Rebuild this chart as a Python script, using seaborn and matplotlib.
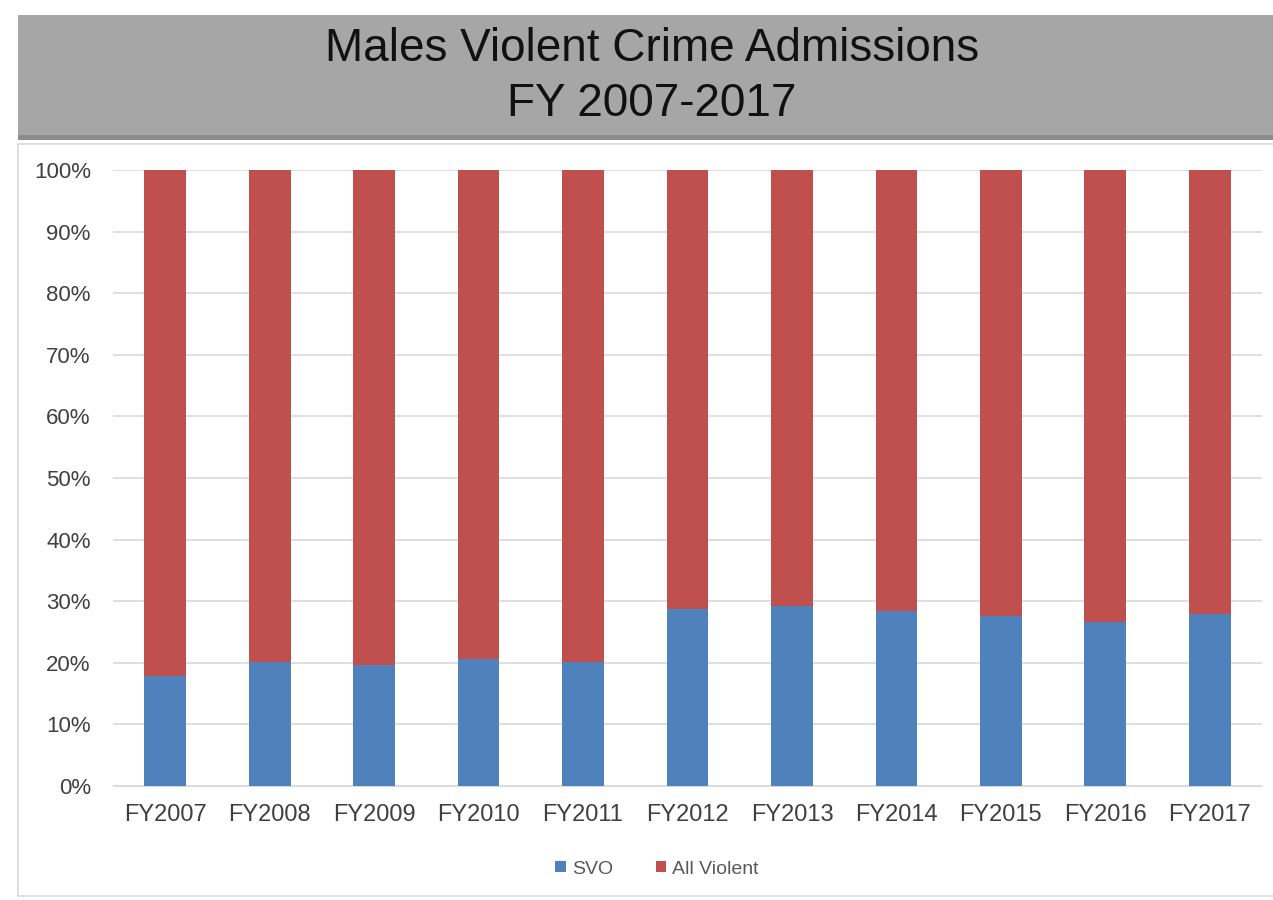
import matplotlib
matplotlib.use("Agg")
import matplotlib.pyplot as plt
import seaborn as sns
import pandas as pd
from matplotlib.patches import Rectangle
from matplotlib.ticker import FuncFormatter

years = ['FY2007', 'FY2008', 'FY2009', 'FY2010', 'FY2011', 'FY2012',
         'FY2013', 'FY2014', 'FY2015', 'FY2016', 'FY2017']
svo = [17.9, 20.1, 19.6, 20.6, 20.1, 28.8, 29.3, 28.4, 27.6, 26.7, 28.0]
all_violent = [82.1, 79.9, 80.4, 79.4, 79.9, 71.2, 70.7, 71.6, 72.4, 73.3, 72.0]

df = pd.DataFrame({'year': years, 'svo': svo, 'all_violent': all_violent})
df['total'] = df['svo'] + df['all_violent']

blue = '#4f81bd'
red = '#c0504d'
grey_txt = '#404040'

sns.set_style('white')
plt.rcParams['font.family'] = ['Liberation Sans', 'DejaVu Sans']

fig = plt.figure(figsize=(12.73, 9), dpi=100)

# title banner
fig.patches.append(Rectangle((18 / 1273, 1 - 140 / 900), 1, 6 / 900, transform=fig.transFigure,
                             facecolor='#8c8c8c', edgecolor='none', zorder=-3))
fig.patches.append(Rectangle((18 / 1273, 1 - 135 / 900), 1, 120 / 900, transform=fig.transFigure,
                             facecolor='#a6a6a6', edgecolor='none', zorder=-2))
fig.text(652 / 1273, 1 - 61 / 900, 'Males Violent Crime Admissions', ha='center', va='baseline',
         fontsize=33, color='#111111')
fig.text(652 / 1273, 1 - 116 / 900, 'FY 2007-2017', ha='center', va='baseline',
         fontsize=33, color='#111111')

# chart frame
fig.patches.append(Rectangle((18 / 1273, 1 - 896 / 900), 1, 752 / 900, transform=fig.transFigure,
                             facecolor='white', edgecolor='#d9d9d9', linewidth=1.2, zorder=-3))

ax = fig.add_axes([113 / 1273, 1 - 786 / 900, 1149 / 1273, 616 / 900])
ax.set_zorder(2)
ax.set_facecolor('none')

sns.barplot(data=df, x='year', y='total', color=red, width=0.4, saturation=1, ax=ax,
            label='All Violent', linewidth=0, zorder=3)
sns.barplot(data=df, x='year', y='svo', color=blue, width=0.4, saturation=1, ax=ax,
            label='SVO', linewidth=0, zorder=4)

ax.set_ylim(0, 100)
ax.set_xlim(-0.5, len(years) - 0.5)
ax.set_yticks(range(0, 101, 10))
ax.yaxis.set_major_formatter(FuncFormatter(lambda v, p: f'{int(v)}%'))
ax.grid(axis='y', color='#d9d9d9', linewidth=1.2, zorder=0)
ax.set_axisbelow(True)
for s in ['top', 'right', 'left']:
    ax.spines[s].set_visible(False)
ax.spines['bottom'].set_color('#d9d9d9')
ax.set_xlabel('')
ax.set_ylabel('')
ax.tick_params(axis='both', length=0, colors=grey_txt)
ax.tick_params(axis='x', pad=13, labelsize=17)
ax.tick_params(axis='y', pad=16, labelsize=16)

handles, labels = ax.get_legend_handles_labels()
order = [labels.index('SVO'), labels.index('All Violent')]
ax.legend([handles[i] for i in order], [labels[i] for i in order], loc='center',
          bbox_to_anchor=(657 / 1273, 1 - 869 / 900), bbox_transform=fig.transFigure,
          ncol=2, frameon=False, fontsize=14, handlelength=0.55, handleheight=0.55,
          columnspacing=2.2, handletextpad=0.3, labelcolor='#595959')

fig.savefig('out.png', dpi=100)
